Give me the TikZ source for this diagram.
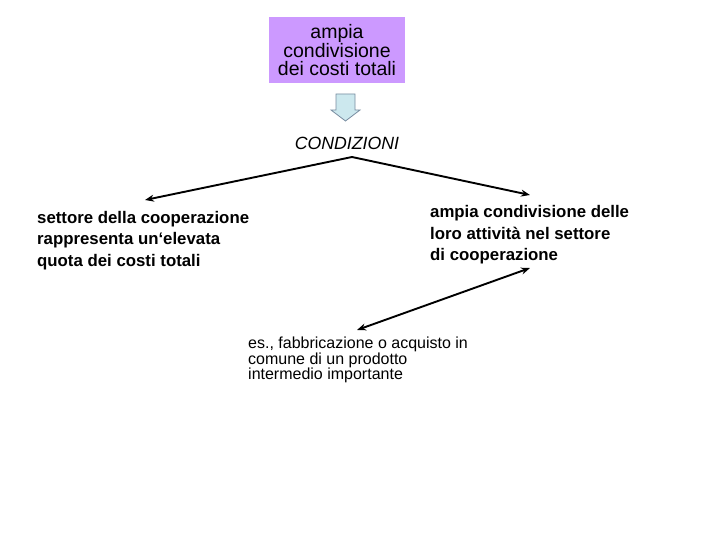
\documentclass[tikz,border=0pt]{standalone}
\usepackage{fontspec}
\setmainfont{Liberation Sans}
\usetikzlibrary{arrows.meta}
\definecolor{boxpurple}{RGB}{204,153,255}
\definecolor{arrowfill}{RGB}{204,232,238}
\definecolor{arrowline}{RGB}{120,140,160}
\begin{document}
\begin{tikzpicture}[x=1pt,y=-1pt,
  conn/.style={line width=1.9pt,-{Stealth[length=9pt,width=7pt]}},
  dconn/.style={line width=1.9pt,{Stealth[length=9pt,width=7pt]}-{Stealth[length=9pt,width=7pt]}},
  boldtxt/.style={anchor=north west,inner sep=0pt,align=left,font=\fontsize{16.8}{21.5}\selectfont\bfseries},
  smalltxt/.style={anchor=north west,inner sep=0pt,align=left,font=\fontsize{16}{15.5}\selectfont}]
\useasboundingbox[fill=white] (0,0) rectangle (720,540);
% top box
\node[draw=none,fill=boxpurple,minimum width=136pt,minimum height=66pt,inner sep=0pt,
  align=center,font=\fontsize{19.5}{18.5}\selectfont] (top) at (337,50.5)
  {ampia\\condivisione\\dei costi totali};
% block arrow
\filldraw[fill=arrowfill,draw=arrowline,line width=0.8pt]
  (336,94) -- (355,94) -- (355,110) -- (360,110) -- (345.5,121) -- (331,110) -- (336,110) -- cycle;
\node[font=\fontsize{17.7}{20}\selectfont\itshape,inner sep=0pt] (cond) at (347,143) {CONDIZIONI};
\coordinate (peak) at (352,157);
% texts
\node[boldtxt] (left) at (37,211) {settore della cooperazione\\rappresenta un‘elevata\\quota dei costi totali};
\node[boldtxt] (right) at (430,205.5) {ampia condivisione delle\\loro attività nel settore\\di cooperazione};
\node[smalltxt] (bottom) at (248,337) {es., fabbricazione o acquisto in\\comune di un prodotto\\intermedio importante};
\coordinate (lend) at (145,200);
\coordinate (rend) at (530,195);
\coordinate (d1) at (530,268);
\coordinate (d2) at (357,330);
\draw[conn] (peak) -- (lend);
\draw[conn] (peak) -- (rend);
\draw[dconn] (d1) -- (d2);
\end{tikzpicture}
\end{document}
